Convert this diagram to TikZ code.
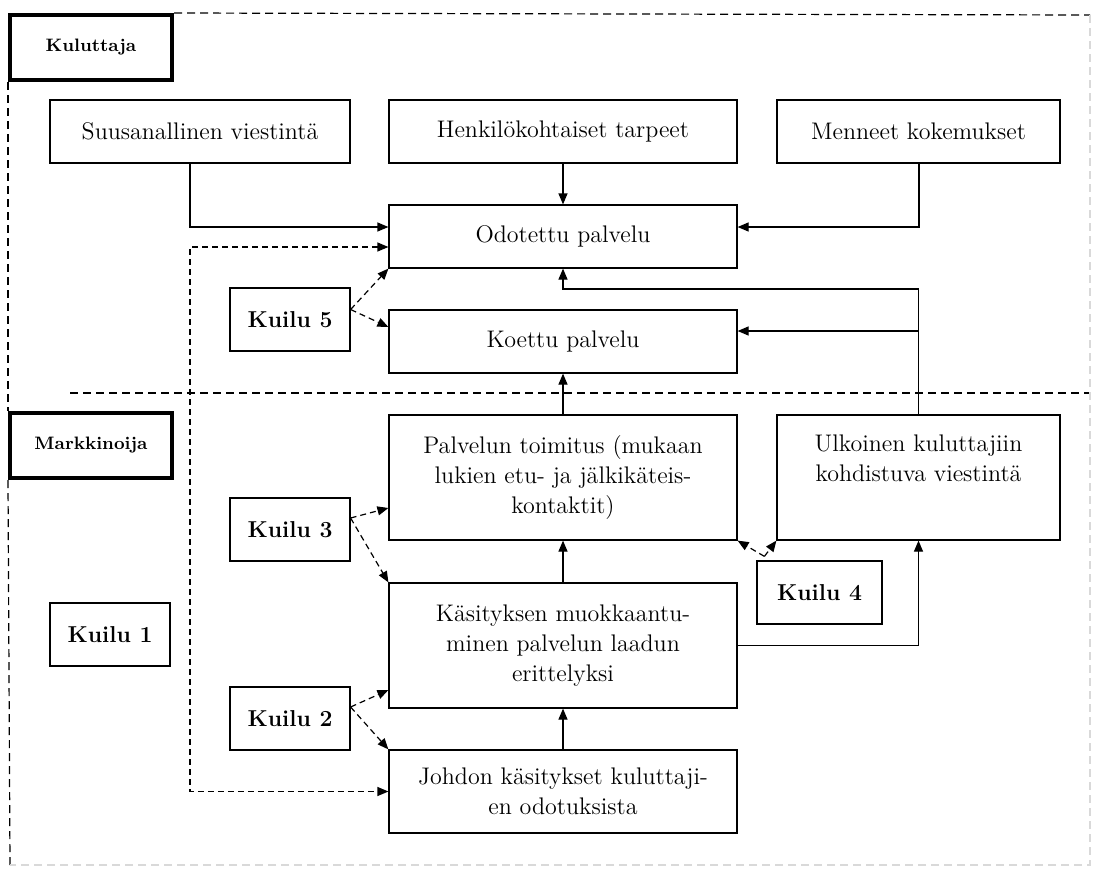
\documentclass[tikz,border=0pt]{standalone}
\usepackage{fontspec}
\usetikzlibrary{positioning,arrows.meta}

\begin{document}
\begin{tikzpicture}[x=0.5pt,y=-0.5pt,
  font=\fontsize{12}{15}\selectfont,
  >={Triangle[length=5.5pt,width=4.5pt]},
  box/.style={draw, line width=0.6pt, align=center, inner sep=2pt},
  wide/.style={box, minimum width=174pt, minimum height=31.5pt},
  tall/.style={box, minimum width=174pt, minimum height=62.5pt},
  side/.style={box, minimum width=141.5pt, minimum height=62.5pt},
  gapbox/.style={box, font=\fontsize{11.5}{15}\selectfont\bfseries, minimum width=60pt, minimum height=31.5pt},
  party/.style={draw, line width=2pt, font=\fontsize{9}{10}\selectfont\bfseries, minimum width=81pt, minimum height=32.5pt},
  flow/.style={->, line width=0.6pt},
  gaparrow/.style={flow, dash pattern=on 3pt off 2pt},
  border/.style={line width=0.6pt, dash pattern=on 4pt off 2.5pt}]

\useasboundingbox (0,0) rectangle (1093,868);

% Party labels
\node (kul) [party] at (91,47.5) {Kuluttaja};
\node (mar) [party] at (91,445.5) {Markkinoija};

% Consumer side
\node (suu) [box, minimum width=150pt, minimum height=31.5pt] at (200,131.5) {Suusanallinen viestintä};
\node (hen) [wide] at (563,131.5) {Henkilökohtaiset tarpeet};
\node (men) [box, minimum width=141.5pt, minimum height=31.5pt] at (918.5,131.5) {Menneet kokemukset};
\node (odo) [wide] at (563,236.5) {Odotettu palvelu};
\node (koe) [wide] at (563,341.5) {Koettu palvelu};

% Marketer side
\node (pal) [tall] at (563,477.5) {Palvelun toimitus (mukaan\\lukien etu- ja jälkikäteis-\\kontaktit)};
\node (ulk) [side] at (918.5,477.5) {Ulkoinen kuluttajiin\\kohdistuva viestintä\\\strut};
\node (kas) [tall] at (563,645.5) {Käsityksen muokkaantu-\\minen palvelun laadun\\erittelyksi};
\node (joh) [box, minimum width=174pt, minimum height=41.5pt] at (563,791.5) {Johdon käsitykset kuluttaji-\\en odotuksista};

% Gaps
\node (k5) [gapbox] at (290,319.5) {Kuilu 5};
\node (k3) [gapbox] at (290,529.5) {Kuilu 3};
\node (k4) [gapbox, minimum width=62.5pt] at (819.5,592.5) {Kuilu 4};
\node (k1) [gapbox] at (110,634.5) {Kuilu 1};
\node (k2) [gapbox] at (290,718.5) {Kuilu 2};

% Dashed borders
\coordinate (tr) at (1090,15);
\coordinate (bl) at (10,865);
\coordinate (br) at (1090,865);
\coordinate (ml) at (70,393);
\coordinate (mr) at (1090,393);
\draw[border] (kul.north east) -- (tr);
\draw[border] (kul.south west) -- (mar.north west);
\draw[border] (mar.south west) -- (bl);
\draw[border] (ml) -- (mr);
\draw[border, gray!30] (tr) -- (br) -- (bl);

% Flows into expected service
\draw[flow] ([xshift=-5pt]suu.south) |- ([yshift=4.75pt]odo.west);
\draw[flow] (hen) -- (odo);
\draw[flow] ([xshift=0.25pt]men.south) |- ([yshift=4.75pt]odo.east);
\coordinate (j1) at (918.5,289);
\coordinate (kin) at ([yshift=5.25pt]koe.east);
\draw[flow] (ulk.north) -- (j1) -| (odo.south);
\draw[flow] (ulk.north |- kin) -- (kin);

% Flows on the marketer side
\draw[flow] (pal) -- (koe);
\draw[flow] (kas) -- (pal);
\draw[flow] (joh) -- (kas);
\draw[flow] (kas.east) -| (ulk.south);

% Gap 1 feedback
\coordinate (fbx) at (190,520);
\coordinate (fbin) at ([yshift=-5.25pt]odo.west);
\draw[gaparrow, <->] (fbin) -- (fbx |- fbin) -- (fbx |- joh.west) -- (joh.west);

% Gap arrows
\draw[gaparrow] ([yshift=5pt]k5.east) -- (odo.south west);
\draw[gaparrow] ([yshift=5pt]k5.east) -- ([yshift=7.25pt]koe.west);
\draw[gaparrow] ([yshift=5.75pt]k3.east) -- ([yshift=-15.25pt]pal.west);
\draw[gaparrow] ([yshift=5.75pt]k3.east) -- (kas.north west);
\draw[gaparrow] ([yshift=5.75pt]k2.east) -- ([yshift=-22.25pt]kas.west);
\draw[gaparrow] ([yshift=5.75pt]k2.east) -- (joh.north west);
\draw[gaparrow] ([shift={(4pt,2pt)}]k4.north west) -- (pal.south east);
\draw[gaparrow] ([shift={(4pt,2pt)}]k4.north west) -- (ulk.south west);

\end{tikzpicture}
\end{document}
